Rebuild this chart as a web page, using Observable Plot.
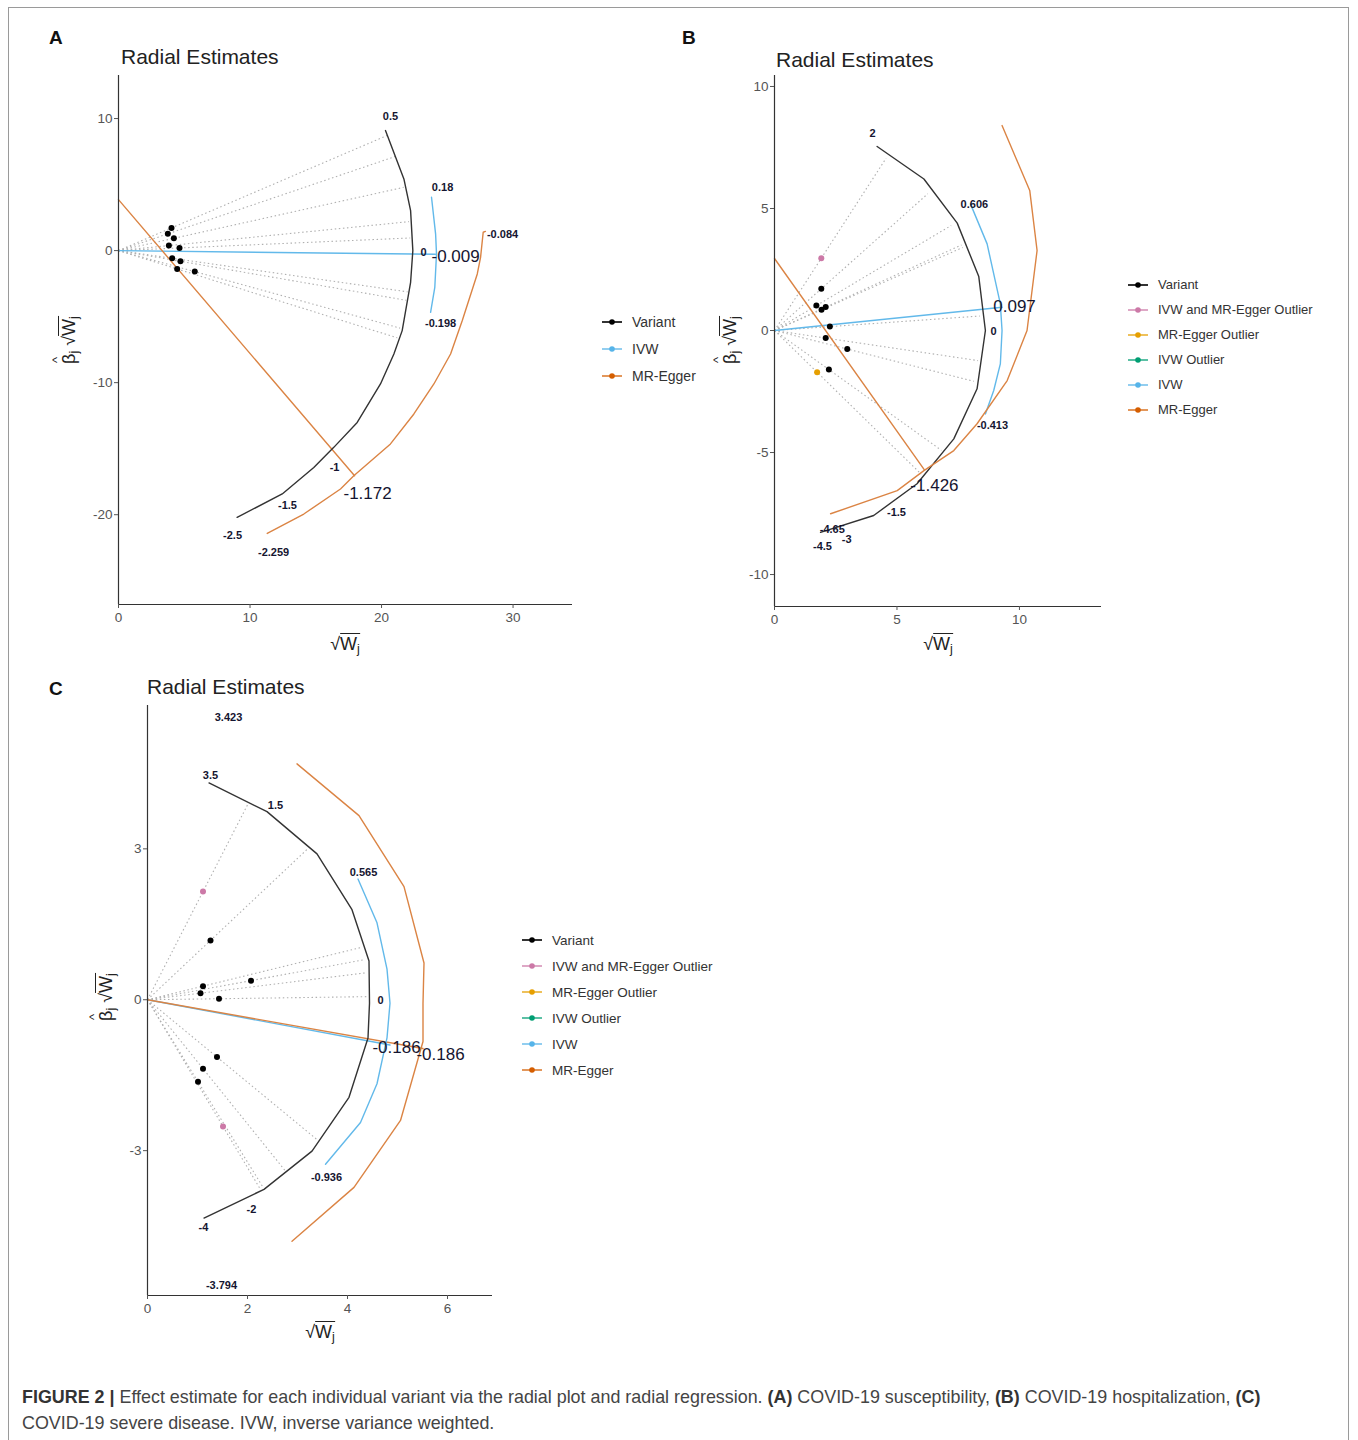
<!DOCTYPE html>
<html><head><meta charset="utf-8">
<script src="https://cdn.jsdelivr.net/npm/d3@7"></script>
<script src="https://cdn.jsdelivr.net/npm/@observablehq/plot@0.6"></script>
<style>
body{margin:0;background:#fff;font-family:"Liberation Sans",Arial,sans-serif;}
#root{position:relative;width:1358px;height:1440px;overflow:hidden;}
.abs{position:absolute;white-space:nowrap;}
.frame{position:absolute;left:8px;top:7px;width:1341px;height:1445px;border:1px solid #9a9a9a;box-sizing:border-box;}
.plabel{font-weight:bold;font-size:19px;color:#111;}
.title{font-size:21px;color:#222;}
.axlab{font-size:18px;color:#222;}
.leg{color:#333;}
.leg .it{display:flex;align-items:center;}
.cap{font-size:17.9px;color:#444;line-height:26px;}
.sq{border-top:1.3px solid #222;}
.hat{position:relative;display:inline-block;}
.hat i{position:absolute;left:1px;top:-10px;font-style:normal;font-size:13px;}
sub{font-size:70%;vertical-align:-3px;}
</style>
</head><body><div id="root"><div class="frame"></div></div>
<script>
// ---------- DATA ----------
const legendColors = {
  "Variant":"#000000",
  "IVW and MR-Egger Outlier":"#CC79A7",
  "MR-Egger Outlier":"#E69F00",
  "IVW Outlier":"#009E73",
  "IVW":"#56B4E9",
  "MR-Egger":"#D55E00"
};
const legendA = ["Variant","IVW","MR-Egger"];
const legendBC = ["Variant","IVW and MR-Egger Outlier","MR-Egger Outlier","IVW Outlier","IVW","MR-Egger"];

// Panel A
const aVariants = [
  {x:4.03,y:1.72,type:"Variant"},{x:3.75,y:1.27,type:"Variant"},{x:4.21,y:0.93,type:"Variant"},
  {x:3.83,y:0.38,type:"Variant"},{x:4.64,y:0.20,type:"Variant"},{x:4.08,y:-0.58,type:"Variant"},
  {x:4.71,y:-0.81,type:"Variant"},{x:4.46,y:-1.39,type:"Variant"},{x:5.80,y:-1.59,type:"Variant"}
];
const aArcVariant = [[20.30,9.09],[21.70,5.43],[22.21,3.03],[22.38,0],[22.21,-2.40],[21.57,-6.06],[20.94,-7.83],[19.92,-10.10],[18.15,-13.01],[16.37,-14.90],[14.85,-16.42],[12.45,-18.43],[9.02,-20.20]];
const aArcIVW = [[23.80,4.04],[24.11,1.27],[24.18,-0.25],[24.05,-2.78],[23.73,-4.67]];
const aArcEgger = [[27.90,1.45],[27.73,1.39],[27.53,-0.51],[27.28,-1.77],[26.14,-5.30],[25.25,-7.83],[23.98,-10.10],[22.46,-12.37],[20.68,-14.64],[17.89,-17.05],[16.88,-18.05],[14.09,-19.95],[11.31,-21.42]];
const aIVWLine = [[0,0],[24.1,-0.28]];
const aEggerLine = [[0,3.86],[17.95,-17.05]];
const aLabelsSmall = [
  {t:"0.5",x:20.68,y:10.15},{t:"0.18",x:24.64,y:4.77},{t:"0",x:23.19,y:-0.15},
  {t:"-0.084",x:29.2,y:1.21},{t:"-0.198",x:24.49,y:-5.53},{t:"-1",x:16.43,y:-16.44},
  {t:"-1.5",x:12.85,y:-19.32},{t:"-2.5",x:8.67,y:-21.59},{t:"-2.259",x:11.79,y:-22.88}
];
const aLabelsBig = [{t:"-0.009",x:25.63,y:-0.45},{t:"-1.172",x:18.94,y:-18.41}];
const aXTicks = [0,10,20,30];
const aYTicks = [-20,-10,0,10];

// Panel B
const bVariants = [
  {x:1.91,y:2.96,type:"IVW and MR-Egger Outlier"},{x:1.91,y:1.71,type:"Variant"},{x:1.71,y:1.02,type:"Variant"},
  {x:1.92,y:0.85,type:"Variant"},{x:2.09,y:0.96,type:"Variant"},{x:2.26,y:0.16,type:"Variant"},
  {x:2.09,y:-0.31,type:"Variant"},{x:2.97,y:-0.76,type:"Variant"},{x:2.22,y:-1.60,type:"Variant"},
  {x:1.74,y:-1.71,type:"MR-Egger Outlier"}
];
const bArcVariant = [[4.19,7.54],[6.10,6.21],[7.46,4.40],[8.34,2.21],[8.61,0],[8.27,-2.39],[7.32,-4.44],[5.82,-6.28],[4.05,-7.58],[1.88,-8.27]];
const bArcIVW = [[8.0,5.19],[8.68,3.55],[9.22,1.09],[9.29,0],[9.22,-1.37],[8.95,-2.46],[8.61,-3.42]];
const bArcEgger = [[9.29,8.40],[10.42,5.74],[10.72,3.28],[10.31,0],[9.50,-2.05],[8.27,-3.82],[7.32,-4.92],[6.10,-5.74],[5.01,-6.56],[2.29,-7.51]];
const bIVWLine = [[0,0],[9.29,0.955]];
const bEggerLine = [[0,2.95],[6.12,-5.71]];
const bLabelsSmall = [
  {t:"2",x:4.0,y:8.07},{t:"0.606",x:8.16,y:5.16},{t:"0",x:8.94,y:-0.04},{t:"-0.413",x:8.9,y:-3.89},
  {t:"-1.5",x:4.98,y:-7.46},{t:"-4.65",x:2.36,y:-8.14},{t:"-3",x:2.95,y:-8.58},{t:"-4.5",x:1.96,y:-8.84}
];
const bLabelsBig = [{t:"0.097",x:9.8,y:0.98},{t:"-1.426",x:6.53,y:-6.35}];
const bXTicks = [0,5,10];
const bYTicks = [-10,-5,0,5,10];

// Panel C
const cVariants = [
  {x:1.11,y:2.15,type:"IVW and MR-Egger Outlier"},{x:1.26,y:1.18,type:"Variant"},{x:2.07,y:0.38,type:"Variant"},
  {x:1.11,y:0.27,type:"Variant"},{x:1.06,y:0.13,type:"Variant"},{x:1.43,y:0.02,type:"Variant"},
  {x:1.39,y:-1.14,type:"Variant"},{x:1.11,y:-1.37,type:"Variant"},{x:1.01,y:-1.63,type:"Variant"},
  {x:1.51,y:-2.52,type:"IVW and MR-Egger Outlier"}
];
const cArcVariant = [[1.23,4.31],[2.39,3.74],[3.39,2.90],[4.09,1.79],[4.43,0.77],[4.44,-0.07],[4.41,-0.76],[4.03,-1.94],[3.29,-3.01],[2.33,-3.77],[1.13,-4.34]];
const cArcIVW = [[4.21,2.40],[4.59,1.53],[4.79,0.61],[4.85,-0.07],[4.79,-0.76],[4.59,-1.67],[4.26,-2.44],[3.56,-3.27]];
const cArcEgger = [[2.99,4.69],[4.23,3.66],[5.13,2.25],[5.53,0.73],[5.51,-0.07],[5.51,-0.83],[5.06,-2.40],[4.13,-3.73],[2.89,-4.80]];
const cIVWLine = [[0,0],[4.85,-0.9]];
const cEggerLine = [[0,0],[5.51,-0.97]];
const cLabelsSmall = [
  {t:"3.423",x:1.62,y:5.61},{t:"3.5",x:1.26,y:4.45},{t:"1.5",x:2.56,y:3.86},{t:"0.565",x:4.32,y:2.54},
  {t:"0",x:4.66,y:-0.02},{t:"-0.936",x:3.58,y:-3.54},{t:"-2",x:2.08,y:-4.17},{t:"-4",x:1.12,y:-4.53},
  {t:"-3.794",x:1.48,y:-5.69}
];
const cLabelsBig = [{t:"-0.186",x:4.98,y:-0.95},{t:"-0.186",x:5.86,y:-1.09}];
const cXTicks = [0,2,4,6];
const cYTicks = [-3,0,3];

// ---------- RENDER ----------
const root = document.getElementById("root");
const FONT = "'Liberation Sans', Arial, sans-serif";
const LBL = "#151530";

function panel(o){
  const R = o.R;
  const chart = Plot.plot({
    width:o.width, height:o.height,
    marginLeft:o.mL, marginTop:o.mT, marginRight:o.mR, marginBottom:o.mB,
    x:{domain:o.xDom}, y:{domain:o.yDom},
    color:{domain:Object.keys(legendColors), range:Object.values(legendColors)},
    style:{fontFamily:FONT, background:"transparent", overflow:"visible"},
    marks:[
      Plot.link(o.points, {x1:()=>0, y1:()=>0,
        x2:d=>R*d.x/Math.hypot(d.x,d.y), y2:d=>R*d.y/Math.hypot(d.x,d.y),
        stroke:"#b0b0b0", strokeWidth:1.1, strokeDasharray:"1.5,2.6"}),
      Plot.line(o.ivwLine, {x:d=>d[0], y:d=>d[1], stroke:"#62B9EA", strokeWidth:1.4}),
      Plot.line(o.eggerLine, {x:d=>d[0], y:d=>d[1], stroke:"#DB8444", strokeWidth:1.4}),
      Plot.line(o.arcV, {x:d=>d[0], y:d=>d[1], stroke:"#333", strokeWidth:1.4, curve:"linear"}),
      Plot.line(o.arcI, {x:d=>d[0], y:d=>d[1], stroke:"#62B9EA", strokeWidth:1.4}),
      Plot.line(o.arcE, {x:d=>d[0], y:d=>d[1], stroke:"#DB8444", strokeWidth:1.4}),
      Plot.dot(o.points, {x:"x", y:"y", r:3, fill:"type", stroke:null}),
      Plot.text(o.small, {x:"x", y:"y", text:"t", fontSize:11, fontWeight:"bold", fill:LBL}),
      Plot.text(o.big, {x:"x", y:"y", text:"t", fontSize:17, fill:LBL}),
      Plot.ruleX([o.xDom[0]], {stroke:"#333", strokeWidth:1.2}),
      Plot.ruleY([o.yDom[0]], {stroke:"#333", strokeWidth:1.2}),
      Plot.axisX({ticks:o.xTicks, tickFormat:d=>String(d), tickSize:4, tickPadding:4, fontSize:13.5, color:"#555", label:null}),
      Plot.axisY({ticks:o.yTicks, tickFormat:d=>String(d), tickSize:4, tickPadding:2, fontSize:13.5, color:"#555", label:null})
    ]
  });
  chart.style.position="absolute";
  chart.style.left=o.left+"px";
  chart.style.top=o.top+"px";
  root.appendChild(chart);
}

function html(cls, left, top, inner, extra){
  const d=document.createElement("div");
  d.className="abs "+cls;
  d.style.left=left+"px"; d.style.top=top+"px";
  d.innerHTML=inner;
  if(extra) d.style.cssText += extra;
  root.appendChild(d);
  return d;
}
const yLab = '<span class="hat">β<i>^</i></span><sub>j</sub>&nbsp;√<span class="sq">W<sub>j</sub></span>';
const xLab = '√<span class="sq">W<sub>j</sub></span>';
function decorate(letter, lx, ly, tx, ty, ylx, yly, xlx, xly){
  html("plabel", lx, ly, letter, "transform:translate(0,-50%)");
  html("title", tx, ty, "Radial Estimates", "transform:translate(0,-50%)");
  html("axlab", ylx, yly, yLab, "transform:translate(-50%,-50%) rotate(-90deg)");
  html("axlab", xlx, xly, xLab, "transform:translate(-50%,-50%)");
}
function legend(items, left, top, step, fs){
  const d=html("leg", left, top, "", "font-size:"+fs+"px");
  items.forEach((k,i)=>{
    const c=legendColors[k];
    const it=document.createElement("div");
    it.className="it"; it.style.height=step+"px";
    it.innerHTML=`<svg width="32" height="10"><line x1="2" y1="5" x2="22" y2="5" stroke="${c}" stroke-width="1.6" opacity="${k==='Variant'?1:0.8}"/><circle cx="12" cy="5" r="2.8" fill="${c}"/></svg><span>${k}</span>`;
    d.appendChild(it);
  });
}

panel({left:40, top:70, width:560, height:600, mL:78, mT:5, mR:28, mB:66,
  xDom:[0,34.52], yDom:[-26.8,13.26], xTicks:aXTicks, yTicks:aYTicks, R:22.2,
  points:aVariants, arcV:aArcVariant, arcI:aArcIVW, arcE:aArcEgger,
  ivwLine:aIVWLine, eggerLine:aEggerLine, small:aLabelsSmall, big:aLabelsBig});
panel({left:700, top:70, width:420, height:600, mL:74, mT:5, mR:19, mB:64,
  xDom:[0,13.35], yDom:[-11.31,10.45], xTicks:bXTicks, yTicks:bYTicks, R:8.4,
  points:bVariants, arcV:bArcVariant, arcI:bArcIVW, arcE:bArcEgger,
  ivwLine:bIVWLine, eggerLine:bEggerLine, small:bLabelsSmall, big:bLabelsBig});
panel({left:70, top:700, width:440, height:660, mL:77, mT:5, mR:18, mB:65,
  xDom:[0,6.9], yDom:[-5.88,5.85], xTicks:cXTicks, yTicks:cYTicks, R:4.4,
  points:cVariants, arcV:cArcVariant, arcI:cArcIVW, arcE:cArcEgger,
  ivwLine:cIVWLine, eggerLine:cEggerLine, small:cLabelsSmall, big:cLabelsBig});

decorate("A", 49, 38, 121, 57, 70, 340, 345, 645);
decorate("B", 682, 38, 776, 60, 731, 340, 938, 645);
decorate("C", 49, 689, 147, 687, 107, 997, 320, 1333);

legend(legendA, 600, 308, 27, 14);
legend(legendBC, 1126, 272, 25, 13);
legend(legendBC, 520, 927, 26, 13.5);

html("cap", 22, 1384, '<b style="color:#333">FIGURE 2 |</b> Effect estimate for each individual variant via the radial plot and radial regression. <b style="color:#333">(A)</b> COVID-19 susceptibility, <b style="color:#333">(B)</b> COVID-19 hospitalization, <b style="color:#333">(C)</b><br>COVID-19 severe disease. IVW, inverse variance weighted.');
</script>
</body></html>
